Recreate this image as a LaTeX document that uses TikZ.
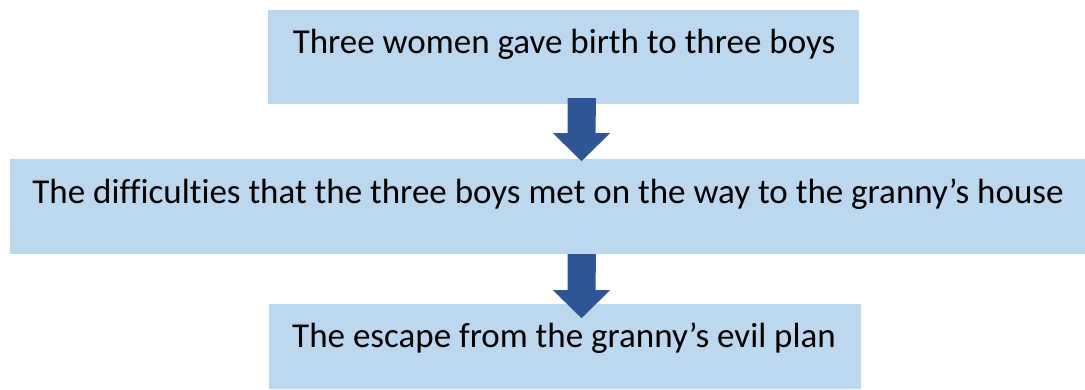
\documentclass[tikz,border=0pt]{standalone}
\usepackage{fontspec}
\setmainfont[Ligatures=NoCommon]{Carlito}
\definecolor{boxfill}{HTML}{BDD7EE}
\definecolor{arrowc}{HTML}{2F5597}
\begin{document}
\begin{tikzpicture}[x=1pt,y=-1pt,
  box/.style={fill=boxfill,draw=none,inner sep=0pt},
  lbl/.style={anchor=base,inner sep=0pt,font=\fontsize{35}{40}\selectfont},
  blockarrow/.style={fill=arrowc,draw=none}]
\useasboundingbox (0,0) rectangle (1085,389);
% boxes
\path[box] (268,10) rectangle (859,104);
\node[inner sep=0pt,minimum width=591pt,minimum height=94pt] (b1) at (563.5,57) {};
\path[box] (10,159) rectangle (1085,254);
\node[inner sep=0pt,minimum width=1075pt,minimum height=95pt] (b2) at (547.5,206.5) {};
\path[box] (269,304) rectangle (861,389);
\node[inner sep=0pt,minimum width=592pt,minimum height=85pt] (b3) at (565,346.5) {};
% texts
\node[lbl] (t1) at (564,53) {Three women gave birth to three boys};
\node[lbl] (t2) at (548,203) {The difficulties that the three boys met on the way to the granny’s house};
\node[lbl] (t3) at (564,347) {The escape from the granny’s evil plan};
% arrows
\fill[blockarrow] ([yshift=6pt]b1.south -| 596,0) -- ++(-28.5,0) coordinate (a1)
  -- ++(0,35) -- ++(-14.5,0) -- ++(28.5,28) -- ++(28.5,-28) -- ++(-14.5,0) -- cycle;
\fill[blockarrow] (b2.south -| 596,0) -- ++(-28.5,0) coordinate (a2)
  -- ++(0,36) -- ++(-14.5,0) -- ++(28.5,28) -- ++(28.5,-28) -- ++(-14.5,0) -- cycle;
\end{tikzpicture}
\end{document}
